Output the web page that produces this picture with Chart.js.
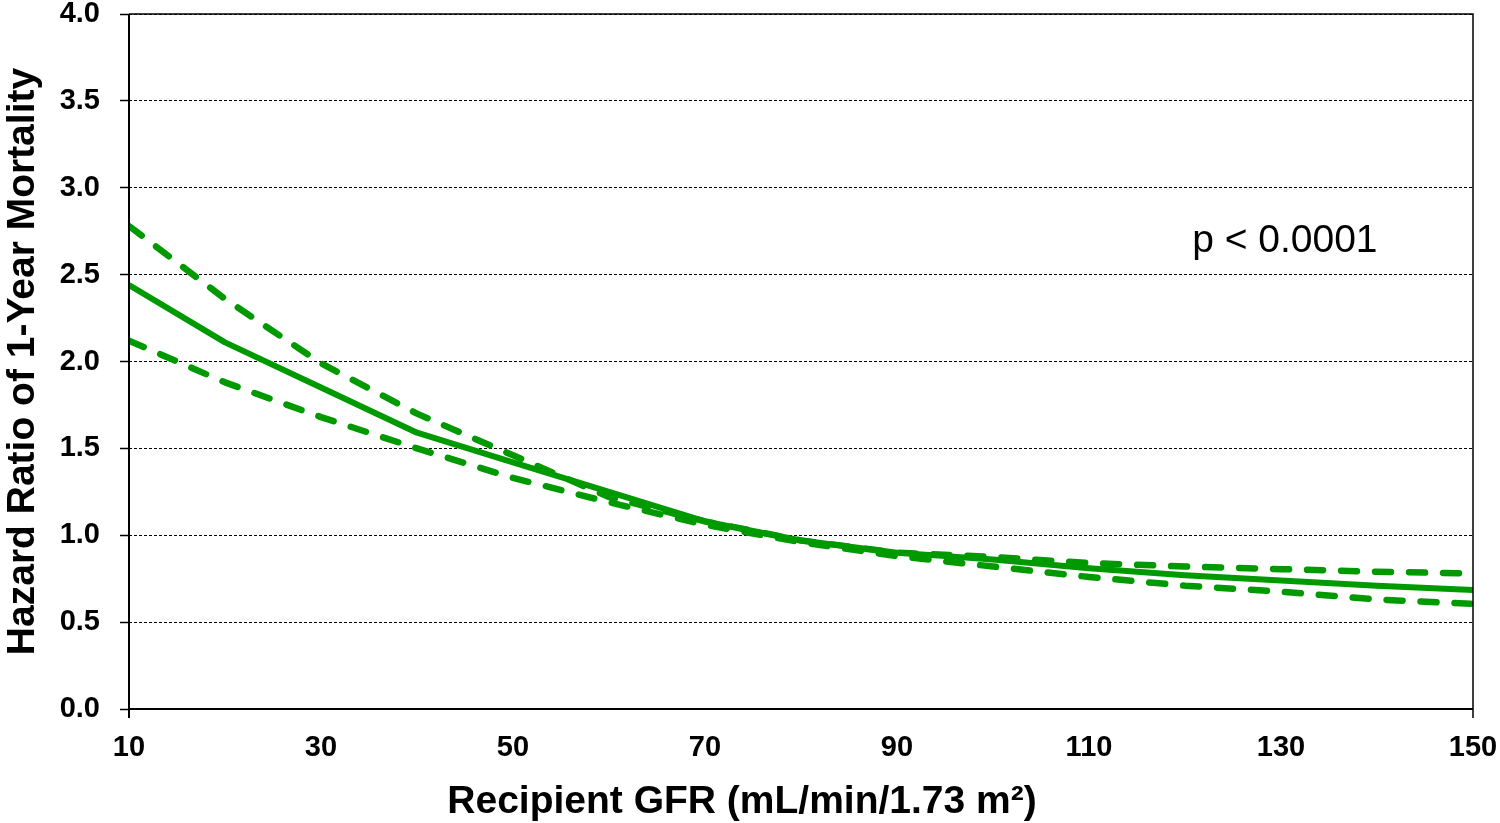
<!DOCTYPE html>
<html>
<head>
<meta charset="utf-8">
<script src="https://cdn.jsdelivr.net/npm/chart.js@4.4.1/dist/chart.umd.min.js"></script>
<style>
  html, body { margin: 0; padding: 0; background: #fff; }
  #wrap { width: 1500px; height: 823px; }
</style>
</head>
<body>
<div id="wrap"><canvas id="myChart" width="1500" height="823"></canvas></div>
<script>
// values
const gfr = [10, 20, 30, 40, 50, 60, 70, 80, 90, 100, 110, 120, 130, 140, 150];
const hazardRatio = [2.44, 2.11, 1.85, 1.59, 1.42, 1.25, 1.08, 0.97, 0.90, 0.86, 0.81, 0.77, 0.74, 0.71, 0.685];
const upperCI = [2.78, 2.36, 1.99, 1.70, 1.46, 1.22, 1.08, 0.97, 0.90, 0.875, 0.84, 0.82, 0.805, 0.79, 0.78];
const lowerCI = [2.12, 1.88, 1.68, 1.50, 1.33, 1.19, 1.06, 0.96, 0.88, 0.82, 0.76, 0.71, 0.675, 0.63, 0.605];
const yTicks = [0, 0.5, 1.0, 1.5, 2.0, 2.5, 3.0, 3.5, 4.0];
const xTitle = 'Recipient GFR (mL/min/1.73 m²)';
const pText = 'p < 0.0001';

const green = '#009a00';
const font = "'Liberation Sans', Arial, sans-serif";

function toPoints(values) {
    return gfr.map((x, i) => ({ x: x, y: values[i] }));
}

function lineSet(label, values, dashed) {
    return {
        label: label,
        data: toPoints(values),
        borderColor: green,
        borderWidth: dashed ? 6.5 : 6,
        borderDash: dashed ? [16, 18] : [],
        borderCapStyle: dashed ? 'round' : 'butt',
        borderJoinStyle: 'round',
        pointRadius: 0,
        tension: 0,
        fill: false,
    };
}

// frame, x title (sits left of centre in the original) and p-value text
const extras = {
    id: 'extras',
    afterDatasetsDraw(chart) {
        const { ctx, chartArea, scales } = chart;
        ctx.save();
        ctx.strokeStyle = '#000';
        ctx.lineWidth = 1.5;
        ctx.setLineDash([]);
        ctx.beginPath();
        ctx.moveTo(chartArea.left, chartArea.top);
        ctx.lineTo(chartArea.right, chartArea.top);
        ctx.lineTo(chartArea.right, chartArea.bottom + 9);
        ctx.stroke();
        ctx.lineWidth = 2;
        ctx.beginPath();
        ctx.moveTo(chartArea.left, chartArea.top);
        ctx.lineTo(chartArea.left, chartArea.bottom + 9);
        ctx.moveTo(chartArea.left, chartArea.bottom);
        ctx.lineTo(chartArea.right, chartArea.bottom);
        ctx.stroke();

        ctx.fillStyle = '#000';
        ctx.textAlign = 'center';
        ctx.textBaseline = 'middle';
        ctx.font = "39px " + font;
        ctx.fillText(pText, scales.x.getPixelForValue(130.4), scales.y.getPixelForValue(2.69));
        ctx.font = "bold 39px " + font;
        ctx.fillText(xTitle, 742, 802);
        ctx.restore();
    }
};

const ctx = document.getElementById('myChart');

new Chart(ctx, {
    type: 'line',
    data: {
        datasets: [
            lineSet('Upper 95% CI', upperCI, true),
            lineSet('Lower 95% CI', lowerCI, true),
            lineSet('Hazard ratio', hazardRatio, false),
        ]
    },
    options: {
        responsive: false,
        animation: false,
        devicePixelRatio: 1,
        layout: { padding: { top: 14, right: 27, left: 0, bottom: 0 } },
        plugins: {
            legend: { display: false },
            tooltip: { enabled: false },
        },
        scales: {
            x: {
                type: 'linear',
                min: 10,
                max: 150,
                afterBuildTicks(axis) {
                    axis.ticks = gfr.filter((v, i) => i % 2 === 0).map(v => ({ value: v }));
                },
                afterFit(axis) {
                    axis.height = 114;
                    axis.paddingLeft = 0;
                    axis.paddingRight = 0;
                },
                grid: { display: false, drawTicks: false },
                border: { display: false },
                ticks: {
                    color: '#000',
                    padding: 22,
                    maxRotation: 0,
                    font: { family: font, size: 29, weight: 'bold' },
                    callback: v => v,
                },
            },
            y: {
                min: 0,
                max: 4,
                afterBuildTicks(axis) {
                    axis.ticks = yTicks.map(v => ({ value: v }));
                },
                afterFit(axis) {
                    axis.width = 129;
                    axis.paddingTop = 0;
                    axis.paddingBottom = 0;
                },
                grid: {
                    color: '#000',
                    lineWidth: 1,
                    drawTicks: true,
                    tickLength: 9,
                    tickColor: '#000',
                    tickWidth: 1.5,
                    tickBorderDash: [],
                },
                border: { display: false, dash: [3, 2] },
                ticks: {
                    color: '#000',
                    padding: 20,
                    font: { family: font, size: 29, weight: 'bold' },
                    callback: v => v.toFixed(1),
                },
                title: {
                    display: true,
                    text: 'Hazard Ratio of 1-Year Mortality',
                    color: '#000',
                    font: { family: font, size: 39, weight: 'bold' },
                    padding: { top: 0, bottom: 0 },
                },
            },
        },
    },
    plugins: [extras],
});
</script>
</body>
</html>
